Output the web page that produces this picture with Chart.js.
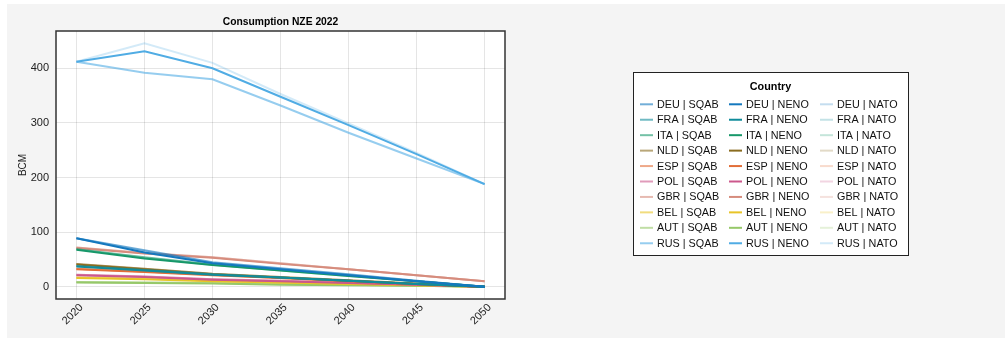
<!DOCTYPE html>
<html><head><meta charset="utf-8">
<script src="https://cdn.jsdelivr.net/npm/chart.js@4"></script>
<style>html,body{margin:0;padding:0;background:#fff;}canvas{display:block;}</style>
</head><body>
<div style="width:1005px;height:338px;position:relative;"><canvas id="c" width="1005" height="338"></canvas></div>
<script>
const chartTitle = "Consumption NZE 2022";
const yTitle = "BCM";
const legendTitle = "Country";
const years = [2020, 2025, 2030, 2035, 2040, 2045, 2050];
const yTicks = [0, 100, 200, 300, 400];
const countries = ["DEU","FRA","ITA","NLD","ESP","POL","GBR","BEL","AUT","RUS"];
const scenarios = ["SQAB","NENO","NATO"];
const countryColors = {
  DEU:[20,120,190], FRA:[16,140,155], ITA:[24,152,106], NLD:[138,108,32], ESP:[226,110,56],
  POL:[204,88,140], GBR:[214,140,125], BEL:[232,196,40], AUT:[150,200,105], RUS:[80,172,228]
};
const scenarioAlpha = {SQAB:0.6, NENO:1.0, NATO:0.25};

const DEU_SQAB = [89, 67, 45, 34, 23, 11, 0];
const DEU_NENO = [89, 63, 43, 32, 21, 10, 0];
const DEU_NATO = [89, 65, 44, 33, 22, 11, 0];
const FRA_SQAB = [38, 31, 23, 17, 11, 5, 0];
const FRA_NENO = [37, 30, 22, 17, 11, 5, 0];
const FRA_NATO = [38, 31, 23, 17, 11, 5, 0];
const ITA_SQAB = [69, 54, 41, 31, 21, 10, 0];
const ITA_NENO = [68, 52, 40, 30, 20, 10, 0];
const ITA_NATO = [69, 53, 40, 30, 20, 10, 0];
const NLD_SQAB = [42, 33, 24, 18, 12, 6, 0];
const NLD_NENO = [41, 32, 23, 17, 11, 5, 0];
const NLD_NATO = [42, 33, 24, 18, 12, 6, 0];
const ESP_SQAB = [33, 28, 22, 16, 11, 5, 0];
const ESP_NENO = [32, 27, 21, 16, 10, 5, 0];
const ESP_NATO = [33, 28, 22, 16, 11, 5, 0];
const POL_SQAB = [22, 19, 14, 11, 8, 4, 0];
const POL_NENO = [21, 18, 13, 10, 7, 4, 0];
const POL_NATO = [22, 19, 14, 11, 8, 4, 0];
const GBR_SQAB = [72, 62, 54, 43, 32, 21, 10];
const GBR_NENO = [71, 61, 53, 42, 32, 21, 10];
const GBR_NATO = [72, 62, 54, 43, 32, 21, 10];
const BEL_SQAB = [17, 15, 11, 8, 6, 3, 0];
const BEL_NENO = [16, 14, 10, 8, 5, 3, 0];
const BEL_NATO = [17, 15, 11, 8, 6, 3, 0];
const AUT_SQAB = [9, 8, 7, 5, 4, 2, 0];
const AUT_NENO = [8, 7, 6, 4, 3, 2, 0];
const AUT_NATO = [9, 8, 7, 5, 4, 2, 0];
const RUS_SQAB = [412, 392, 380, 332, 282, 235, 188];
const RUS_NENO = [412, 431, 400, 348, 296, 243, 188];
const RUS_NATO = [412, 446, 410, 353, 299, 245, 188];

const seriesData = {
  DEU:{SQAB:DEU_SQAB,NENO:DEU_NENO,NATO:DEU_NATO}, FRA:{SQAB:FRA_SQAB,NENO:FRA_NENO,NATO:FRA_NATO},
  ITA:{SQAB:ITA_SQAB,NENO:ITA_NENO,NATO:ITA_NATO}, NLD:{SQAB:NLD_SQAB,NENO:NLD_NENO,NATO:NLD_NATO},
  ESP:{SQAB:ESP_SQAB,NENO:ESP_NENO,NATO:ESP_NATO}, POL:{SQAB:POL_SQAB,NENO:POL_NENO,NATO:POL_NATO},
  GBR:{SQAB:GBR_SQAB,NENO:GBR_NENO,NATO:GBR_NATO}, BEL:{SQAB:BEL_SQAB,NENO:BEL_NENO,NATO:BEL_NATO},
  AUT:{SQAB:AUT_SQAB,NENO:AUT_NENO,NATO:AUT_NATO}, RUS:{SQAB:RUS_SQAB,NENO:RUS_NENO,NATO:RUS_NATO}
};

const FONT = "'Liberation Sans', Arial, Helvetica, sans-serif";
const datasets = [];
countries.forEach(c => {
  scenarios.forEach(s => {
    const [r,g,b] = countryColors[c];
    const col = `rgba(${r},${g},${b},${scenarioAlpha[s]})`;
    datasets.push({
      label: `${c} | ${s}`,
      data: years.map((y,i) => ({x:y, y:seriesData[c][s][i]})),
      borderColor: col, backgroundColor: col,
      borderWidth: 2, pointRadius: 0, tension: 0, fill: false
    });
  });
});

const bgPlugin = {
  id: 'bg',
  beforeDraw(chart) {
    const ctx = chart.ctx, a = chart.chartArea;
    ctx.save();
    ctx.fillStyle = '#ffffff';
    ctx.fillRect(0,0,chart.width,chart.height);
    ctx.fillStyle = '#f4f4f4';
    ctx.fillRect(7,4,chart.width-7,chart.height-4);
    ctx.fillStyle = '#ffffff';
    ctx.fillRect(a.left,a.top,a.right-a.left,a.bottom-a.top);
    ctx.restore();
  },
  afterDraw(chart) {
    const ctx = chart.ctx, a = chart.chartArea;
    ctx.save();
    ctx.strokeStyle = '#333333';
    ctx.lineWidth = 1.5;
    ctx.strokeRect(a.left, a.top, a.right-a.left, a.bottom-a.top);
    // title
    ctx.fillStyle = '#000';
    ctx.font = `bold 10.3px ${FONT}`;
    ctx.textAlign = 'center';
    ctx.textBaseline = 'middle';
    ctx.fillText(chartTitle, (a.left+a.right)/2, 22);
    // legend
    const bx = 633, by = 72, bw = 275, bh = 183;
    ctx.fillStyle = '#ffffff';
    ctx.fillRect(bx,by,bw,bh);
    ctx.strokeStyle = '#222';
    ctx.lineWidth = 1;
    ctx.strokeRect(bx+0.5,by+0.5,bw,bh);
    ctx.fillStyle = '#000';
    ctx.font = `bold 10.8px ${FONT}`;
    ctx.fillText(legendTitle, bx+bw/2, 87);
    ctx.font = `10.8px ${FONT}`;
    ctx.textAlign = 'left';
    const colX = [640, 729, 820];
    chart.data.datasets.forEach((ds, i) => {
      const row = Math.floor(i/3), col = i%3;
      const y = 104.3 + row*15.44;
      ctx.strokeStyle = ds.borderColor;
      ctx.lineWidth = 2;
      ctx.beginPath();
      ctx.moveTo(colX[col], y); ctx.lineTo(colX[col]+13, y);
      ctx.stroke();
      ctx.fillStyle = '#111';
      ctx.fillText(ds.label, colX[col]+17, y+0.5);
    });
    ctx.restore();
  }
};

new Chart(document.getElementById('c'), {
  type: 'line',
  data: { datasets },
  plugins: [bgPlugin],
  options: {
    responsive: false, animation: false,
    layout: { padding: { left: 0, right: 500, top: 31, bottom: 0 } },
    plugins: { legend: { display: false }, title: { display: false }, tooltip: { enabled: false } },
    scales: {
      x: {
        type: 'linear', min: 2018.5, max: 2051.5,
        afterBuildTicks: s => { s.ticks = years.map(v => ({value: v})); },
        afterFit: s => { s.height = 39; },
        grid: { color: 'rgba(0,0,0,0.1)', lineWidth: 1, drawTicks: false },
        border: { display: false },
        ticks: { autoSkip: false, maxRotation: 45, minRotation: 45, padding: 2, labelOffset: 5, color: '#222',
                 font: { family: FONT, size: 11 }, callback: v => String(v) }
      },
      y: {
        type: 'linear', min: -22.3, max: 468.3,
        afterBuildTicks: s => { s.ticks = yTicks.map(v => ({value: v})); },
        afterFit: s => { s.width = 56; },
        grid: { color: 'rgba(0,0,0,0.1)', lineWidth: 1, drawTicks: false },
        border: { display: false },
        title: { display: true, text: yTitle, color: '#222', font: { family: FONT, size: 10 }, padding: { top: 17, bottom: 0 } },
        ticks: { padding: 7, color: '#222', font: { family: FONT, size: 11 }, callback: v => String(v) }
      }
    }
  }
});
</script>
</body></html>
